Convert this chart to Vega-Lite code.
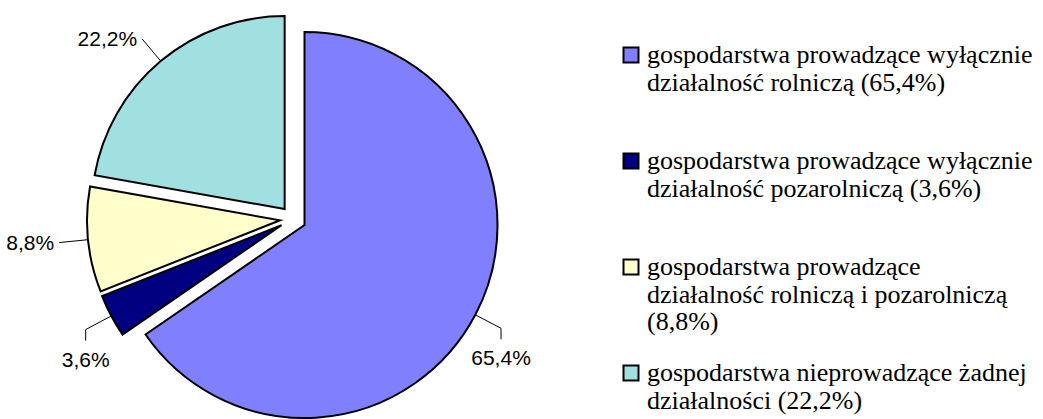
{
  "$schema": "https://vega.github.io/schema/vega-lite/v6.json",
  "padding": 0,
  "background": "white",
  "spacing": 0,
  "config": {"view": {"stroke": null}},
  "datasets": {
    "shares": [
      {"idx": 1, "cat": "rolnicza", "pct": 65.4, "txt": "65,4%", "legend": "gospodarstwa prowadzące wyłącznie\ndziałalność rolniczą (65,4%)"},
      {"idx": 2, "cat": "pozarolnicza", "pct": 3.6, "txt": "3,6%", "legend": "gospodarstwa prowadzące wyłącznie\ndziałalność pozarolniczą (3,6%)"},
      {"idx": 3, "cat": "obie", "pct": 8.8, "txt": "8,8%", "legend": "gospodarstwa prowadzące\ndziałalność rolniczą i pozarolniczą\n(8,8%)"},
      {"idx": 4, "cat": "brak", "pct": 22.2, "txt": "22,2%", "legend": "gospodarstwa nieprowadzące żadnej\ndziałalności (22,2%)"}
    ]
  },
  "hconcat": [
    {
      "width": 586,
      "height": 419,
      "data": {"name": "shares"},
      "transform": [
        {"joinaggregate": [{"op": "sum", "field": "pct", "as": "total"}]},
        {"window": [{"op": "sum", "field": "pct", "as": "cum"}], "sort": [{"field": "idx"}], "frame": [null, 0]},
        {"calculate": "(datum.cum - datum.pct) / datum.total", "as": "f0"},
        {"calculate": "datum.cum / datum.total", "as": "f1"},
        {"calculate": "PI * (datum.f0 + datum.f1)", "as": "ang"},
        {"calculate": "13 * sin(datum.ang)", "as": "cx"},
        {"calculate": "-13 * cos(datum.ang)", "as": "cy"},
        {"calculate": "datum.cx + 193 * sin(datum.ang)", "as": "ex"},
        {"calculate": "datum.cy - 193 * cos(datum.ang)", "as": "ey"},
        {"calculate": "datum.cx + 222 * sin(datum.ang)", "as": "lx"},
        {"calculate": "datum.cy - 222 * cos(datum.ang)", "as": "ly"},
        {"calculate": "datum.ly + 11", "as": "ly2"},
        {"calculate": "-cos(datum.ang) > 0.3", "as": "below"}
      ],
      "layer": [
        {
          "mark": {"type": "arc", "radius": 193, "stroke": "black", "strokeWidth": 2, "strokeJoin": "miter"},
          "encoding": {
            "theta": {"field": "f0", "type": "quantitative", "scale": {"domain": [0, 1], "range": [0, 6.283185307179586]}, "stack": null},
            "theta2": {"field": "f1"},
            "x": {"field": "cx", "type": "quantitative", "scale": {"domain": [-293, 293], "nice": false, "zero": false}, "axis": null},
            "y": {"field": "cy", "type": "quantitative", "scale": {"domain": [-219, 200], "range": [0, 419], "nice": false, "zero": false}, "axis": null},
            "color": {"field": "cat", "type": "nominal", "scale": {"domain": ["rolnicza", "pozarolnicza", "obie", "brak"], "range": ["#8080FF", "#000080", "#FFFFCC", "#A0E0E0"]}, "legend": null}
          }
        },
        {
          "mark": {"type": "rule", "color": "black", "strokeWidth": 1},
          "encoding": {
            "x": {"field": "ex", "type": "quantitative", "scale": {"domain": [-293, 293], "nice": false, "zero": false}, "axis": null},
            "y": {"field": "ey", "type": "quantitative", "scale": {"domain": [-219, 200], "range": [0, 419], "nice": false, "zero": false}, "axis": null},
            "x2": {"field": "lx"},
            "y2": {"field": "ly"}
          }
        },
        {
          "transform": [{"filter": "datum.below"}],
          "mark": {"type": "rule", "color": "black", "strokeWidth": 1},
          "encoding": {
            "x": {"field": "lx", "type": "quantitative", "scale": {"domain": [-293, 293], "nice": false, "zero": false}, "axis": null},
            "y": {"field": "ly", "type": "quantitative", "scale": {"domain": [-219, 200], "range": [0, 419], "nice": false, "zero": false}, "axis": null},
            "y2": {"field": "ly2"}
          }
        },
        {
          "transform": [{"filter": "datum.below"}],
          "mark": {"type": "text", "align": "center", "baseline": "alphabetic", "dy": 37, "font": "Liberation Sans, Arial, sans-serif", "fontSize": 21, "color": "black"},
          "encoding": {
            "x": {"field": "lx", "type": "quantitative", "scale": {"domain": [-293, 293], "nice": false, "zero": false}, "axis": null},
            "y": {"field": "ly", "type": "quantitative", "scale": {"domain": [-219, 200], "range": [0, 419], "nice": false, "zero": false}, "axis": null},
            "text": {"field": "txt"}
          }
        },
        {
          "transform": [{"filter": "!datum.below"}],
          "mark": {"type": "text", "align": "right", "baseline": "alphabetic", "dx": -5, "dy": 7, "font": "Liberation Sans, Arial, sans-serif", "fontSize": 21, "color": "black"},
          "encoding": {
            "x": {"field": "lx", "type": "quantitative", "scale": {"domain": [-293, 293], "nice": false, "zero": false}, "axis": null},
            "y": {"field": "ly", "type": "quantitative", "scale": {"domain": [-219, 200], "range": [0, 419], "nice": false, "zero": false}, "axis": null},
            "text": {"field": "txt"}
          }
        }
      ]
    },
    {
      "width": 457,
      "height": 419,
      "data": {"name": "shares"},
      "encoding": {
        "y": {"field": "idx", "type": "ordinal", "scale": {"type": "point", "range": [55, 373], "padding": 0}, "axis": null}
      },
      "layer": [
        {
          "mark": {"type": "square", "size": 225, "filled": true, "opacity": 1, "stroke": "black", "strokeWidth": 2},
          "encoding": {
            "x": {"value": 45},
            "color": {"field": "cat", "type": "nominal", "scale": {"domain": ["rolnicza", "pozarolnicza", "obie", "brak"], "range": ["#8080FF", "#000080", "#FFFFCC", "#A0E0E0"]}, "legend": null}
          }
        },
        {
          "mark": {"type": "text", "align": "left", "baseline": "alphabetic", "dy": 8, "lineBreak": "\n", "lineHeight": 27.5, "font": "'Liberation Serif', 'Times New Roman', Times, serif", "fontSize": 26, "color": "black"},
          "encoding": {
            "x": {"value": 61},
            "text": {"field": "legend"}
          }
        }
      ]
    }
  ]
}
